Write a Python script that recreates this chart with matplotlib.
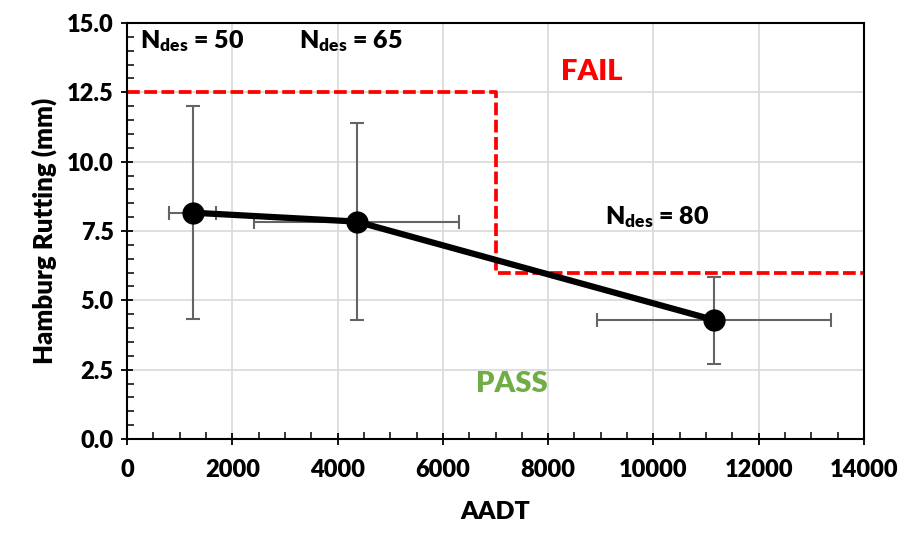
import matplotlib
matplotlib.use('Agg')
import matplotlib.pyplot as plt
from matplotlib.font_manager import FontProperties
from matplotlib.ticker import MultipleLocator

plt.rcParams['font.family'] = ['Lato', 'DejaVu Sans']
plt.rcParams['font.weight'] = 800
plt.rcParams['mathtext.fontset'] = 'custom'
plt.rcParams['mathtext.rm'] = 'Lato:weight=heavy'
plt.rcParams['mathtext.bf'] = 'Lato:weight=heavy'
plt.rcParams['mathtext.it'] = 'Lato:weight=heavy'

# measured points (AADT vs rutting), with error bars
aadt = [1250, 4360, 11150]
rutting = [8.16, 7.84, 4.29]
aadt_err = [450, 1950, 2220]
rut_err_low = [3.82, 3.55, 1.59]
rut_err_high = [3.86, 3.54, 1.56]

# pass/fail criteria line
limit_x = [0, 7000, 7000, 14000]
limit_y = [12.5, 12.5, 6.0, 6.0]

# axis ticks
x_ticks = [0, 2000, 4000, 6000, 8000, 10000, 12000, 14000]
y_ticks = [0.0, 2.5, 5.0, 7.5, 10.0, 12.5, 15.0]

W = 800
tick_font = FontProperties(family='Lato', weight=W, size=17)

fig = plt.figure(figsize=(9.02, 5.33), dpi=100)
ax = fig.add_axes([0.1408, 0.1764, 0.8171, 0.7804])

ax.grid(True, which='major', color='#d9d9d9', lw=1.2, zorder=0)

ax.plot(limit_x, limit_y, color='#ff0000', ls=(0, (3.4, 1.2)), lw=2.7, zorder=2)

ax.errorbar(aadt, rutting, xerr=aadt_err, yerr=[rut_err_low, rut_err_high],
            fmt='none', ecolor='#646464', elinewidth=1.5, capsize=5,
            capthick=1.5, zorder=3)
ax.plot(aadt, rutting, color='black', lw=4.5, marker='o', ms=15, zorder=4)

ax.set_xticks(x_ticks)
ax.set_xticklabels([f'{v}' for v in x_ticks], fontproperties=tick_font)
ax.set_yticks(y_ticks)
ax.set_yticklabels([f'{v:.1f}' for v in y_ticks], fontproperties=tick_font)
ax.xaxis.set_minor_locator(MultipleLocator(500))
ax.yaxis.set_minor_locator(MultipleLocator(0.5))
ax.set_xlim(0, 14000)
ax.set_ylim(0, 15)
ax.tick_params(which='major', direction='inout', length=9, width=1.3, pad=5)
ax.tick_params(which='minor', direction='in', length=5, width=1.1)
ax.tick_params(axis='x', which='major', pad=10)
for sp in ax.spines.values():
    sp.set_linewidth(1.5)
    sp.set_color('black')

ax.set_xlabel('AADT', fontsize=18, fontweight=W, labelpad=14)
ax.set_ylabel('Hamburg Rutting (mm)', fontsize=18.5, fontweight=W, labelpad=7)

ax.text(240, 14.35, r'N$_{\mathrm{des}}$ = 50', fontsize=18, fontweight=W, va='center', ha='left')
ax.text(3270, 14.35, r'N$_{\mathrm{des}}$ = 65', fontsize=18, fontweight=W, va='center', ha='left')
ax.text(9080, 8.0, r'N$_{\mathrm{des}}$ = 80', fontsize=18, fontweight=W, va='center', ha='left')
ax.text(8830, 13.25, 'FAIL', color='#ff0000', fontsize=21, fontweight=W, ha='center', va='center')
ax.text(7310, 2.0, 'PASS', color='#70ad47', fontsize=21, fontweight=W, ha='center', va='center')

fig.savefig('out.png', dpi=100)
